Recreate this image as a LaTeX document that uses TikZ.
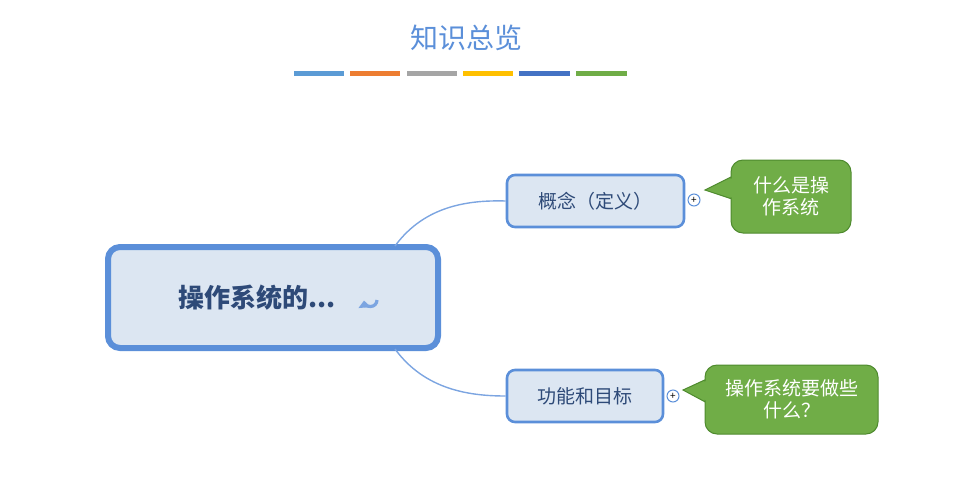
\documentclass[tikz,border=0pt]{standalone}
\usepackage{fontspec}
\setmainfont{Noto Sans CJK SC}
\usetikzlibrary{arrows.meta}
\definecolor{nodeblue}{HTML}{5B8FD9}
\definecolor{nodefill}{HTML}{DCE6F2}
\definecolor{textblue}{HTML}{2E4A78}
\definecolor{leafgreen}{HTML}{70AD47}
\definecolor{leafline}{HTML}{4E8A2E}
\tikzset{
  topic/.style={draw=nodeblue, fill=nodefill, rounded corners=4pt, line width=1.3pt,
    text=textblue, font=\fontsize{9.5}{11}\selectfont, inner sep=0pt},
  leaf/.style={draw=leafline, fill=leafgreen, rounded corners=6pt, line width=0.5pt,
    text=white, font=\fontsize{9.5}{11}\selectfont, align=center, inner sep=0pt},
  branch/.style={draw=nodeblue!80, line width=0.7pt},
  plusmark/.style={circle, draw=nodeblue, fill=white, minimum size=6pt, inner sep=0pt, line width=0.5pt}
}
\begin{document}
\begin{tikzpicture}[x=0.5pt,y=-0.5pt]
  \useasboundingbox (0,0) rectangle (958,477);
  % title and colour bars
  \node[text=nodeblue, font=\fontsize{14}{16}\selectfont] (title) at (466,38) {知识总览};
  \foreach \xa/\xb/\col in {294/344/5B9BD5, 350/400/ED7D31, 407/457/A5A5A5, 463/513/FFC000, 519/570/4472C4, 576/627/70AD47} {
    \definecolor{barcol}{HTML}{\col}
    \fill[barcol] (\xa,71) rectangle (\xb,76);
  }
  % main topic
  \node[topic, line width=3pt, rounded corners=6pt, minimum width=165pt, minimum height=50.5pt] (main) at (273,297.5) {};
  \node[text=textblue, font=\bfseries\fontsize{13}{15}\selectfont, anchor=east] (maintext) at (343,298) {操作系统的...};
  \draw[nodeblue!80, line width=1.6pt, -{Triangle[length=3.5pt,width=6pt]}] (377,300) arc (0:175:6.5);
  % branches
  \coordinate (mt) at (395,246);
  \coordinate (mb) at (395,349);
  % sub topics
  \node[topic, minimum width=88.5pt, minimum height=26pt] (concept) at (595.5,201) {概念（定义）};
  \node[topic, minimum width=78pt, minimum height=26pt] (goal) at (585,396) {功能和目标};
  \draw[branch] (mt) .. controls (425,205) and (470,200) .. (concept.west);
  \draw[branch] (mb) .. controls (425,390) and (470,396) .. (goal.west);
  \node[plusmark] (p1) at (694,200) {};
  \node[plusmark] (p2) at (673,396) {};
  \node[font=\fontsize{5}{5}\selectfont, text=black] at (p1) {+};
  \node[font=\fontsize{5}{5}\selectfont, text=black] at (p2) {+};
  % callouts
  \fill[leafgreen, draw=leafline, line width=0.5pt] (705,190) -- (735,175) -- (735,200) -- cycle;
  \node[leaf, minimum width=60pt, minimum height=36.5pt] (what) at (791,196.5) {什么是操\\作系统};
  \fill[leafgreen] (707,190) -- (737,176) -- (737,199) -- cycle;
  \fill[leafgreen, draw=leafline, line width=0.5pt] (683,390) -- (709,378) -- (709,404) -- cycle;
  \node[leaf, minimum width=86.5pt, minimum height=34.5pt] (todo) at (791.5,399.5) {操作系统要做些\\什么？};
  \fill[leafgreen] (685,390) -- (711,379) -- (711,403) -- cycle;
\end{tikzpicture}
\end{document}
